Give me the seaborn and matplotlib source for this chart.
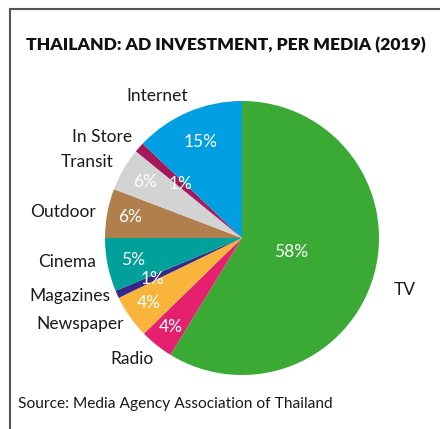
import matplotlib.pyplot as plt
import matplotlib.lines as mlines
import numpy as np
import seaborn as sns

# data (wedge sizes, labels as printed)
midias = ['TV', 'Radio', 'Newspaper', 'Magazines', 'Cinema',
          'Outdoor', 'Transit', 'In Store', 'Internet']
valores = [58.75, 3.95, 5.1, 0.9, 6.3, 5.8, 5.1, 1.2, 12.9]
rotulos_pct = ['58%', '4%', '4%', '1%', '5%', '6%', '6%', '1%', '15%']

cores = ['#3aaa35', '#e5206f', '#f9b43c', '#35288a', '#00a19a',
         '#b07f4b', '#d3d3d3', '#a3195b', '#009fe1']

# posições dos textos (estilo, não dados)
dist_pct = [0.37, 0.83, 0.83, 0.72, 0.81, 0.83, 0.82, 0.60, 0.76]
pos_nomes = [(1.19, -0.38), (-0.80, -0.88), (-1.18, -0.63), (-1.26, -0.42),
             (-1.28, -0.175), (-1.31, 0.19), (-1.13, 0.555), (-1.02, 0.737),
             (-0.62, 1.04)]

sns.set_theme(style='white')
plt.rcParams['font.family'] = ['Lato', 'DejaVu Sans']

fig = plt.figure(figsize=(4.4, 4.29), dpi=100)
ax = fig.add_axes([0, 0, 1, 1])

wedges, _ = ax.pie(valores, colors=cores, startangle=90, counterclock=False,
                   radius=1, wedgeprops=dict(linewidth=0))

for w, txt, d in zip(wedges, rotulos_pct, dist_pct):
    ang = np.deg2rad((w.theta1 + w.theta2) / 2)
    ax.text(d * np.cos(ang), d * np.sin(ang), txt, color='white',
            fontsize=12.5, ha='center', va='center')

for nome, (x, y) in zip(midias, pos_nomes):
    ax.text(x, y, nome, color='#1a1a1a', fontsize=12.5, ha='center', va='center')

# limites para que o centro fique em (242, 238) px com raio 137 px
ax.set_xlim(-242 / 137, 198 / 137)
ax.set_ylim(-191 / 137, 238 / 137)
ax.set_aspect('equal')
ax.axis('off')

fig.text(226 / 440, 1 - 45 / 429, 'THAILAND: AD INVESTMENT, PER MEDIA (2019)',
         fontsize=12.6, fontweight='heavy', ha='center', va='center', color='#111111')
fig.text(18 / 440, 1 - 408 / 429, 'Source: Media Agency Association of Thailand',
         fontsize=11.2, ha='left', va='baseline', color='#1a1a1a')

# moldura (topo e esquerda)
fig.add_artist(mlines.Line2D([10 / 440, 1], [1 - 9 / 429, 1 - 9 / 429],
                             color='#555555', linewidth=1.5))
fig.add_artist(mlines.Line2D([10 / 440, 10 / 440], [0, 1 - 9 / 429],
                             color='#555555', linewidth=1.5))

plt.savefig('out.png', dpi=100)
